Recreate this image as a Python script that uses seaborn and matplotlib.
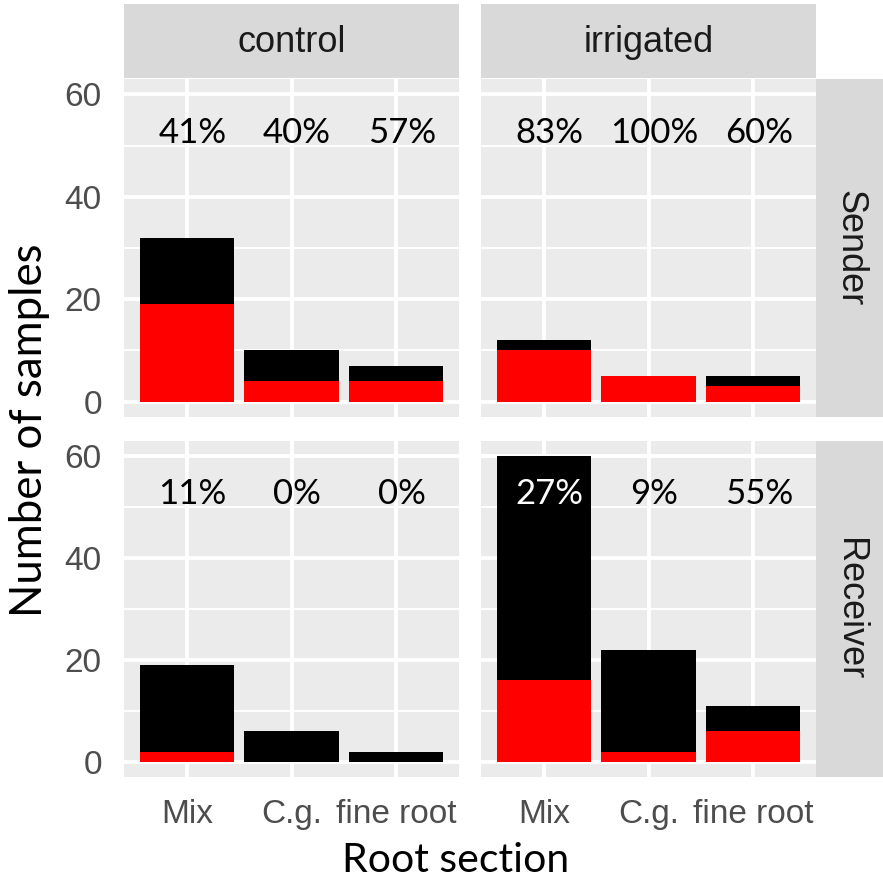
import numpy as np
import pandas as pd
import matplotlib
matplotlib.use("Agg")
import matplotlib.pyplot as plt
import seaborn as sns

# data
sections = ["Mix", "C.g.", "fine root"]
treatments = ["control", "irrigated"]
roles = ["Sender", "Receiver"]

# totals (black) and red part per panel, order = sections
total_sender_control = [32, 10, 7]
red_sender_control = [19, 4, 4]
total_sender_irrigated = [12, 5, 5]
red_sender_irrigated = [10, 5, 3]
total_receiver_control = [19, 6, 2]
red_receiver_control = [2, 0, 0]
total_receiver_irrigated = [60, 22, 11]
red_receiver_irrigated = [16, 2, 6]

pct_sender_control = ["41%", "40%", "57%"]
pct_sender_irrigated = ["83%", "100%", "60%"]
pct_receiver_control = ["11%", "0%", "0%"]
pct_receiver_irrigated = ["27%", "9%", "55%"]
label_y = 52.5

rows = []
panels = {
    ("Sender", "control"): (total_sender_control, red_sender_control, pct_sender_control),
    ("Sender", "irrigated"): (total_sender_irrigated, red_sender_irrigated, pct_sender_irrigated),
    ("Receiver", "control"): (total_receiver_control, red_receiver_control, pct_receiver_control),
    ("Receiver", "irrigated"): (total_receiver_irrigated, red_receiver_irrigated, pct_receiver_irrigated),
}
for (role, trt), (tot, red, pct) in panels.items():
    for s, t, r, p in zip(sections, tot, red, pct):
        rows.append(dict(role=role, treatment=trt, section=s, total=t, red=r, pct=p))
df = pd.DataFrame(rows)

sns.set_theme(style="white")
plt.rcParams["font.family"] = ["Liberation Sans", "DejaVu Sans"]

W, H = 883, 886
fig = plt.figure(figsize=(W / 100, H / 100), dpi=100)

col_x = [124, 481]
col_w = 335
row_y = [(79, 417), (441, 777)]

def fx(px):
    return px / W

def fy(py):
    return 1 - py / H

panel_bg = "#EBEBEB"
strip_bg = "#D9D9D9"

for i, role in enumerate(roles):
    y0, y1 = row_y[i]
    for j, trt in enumerate(treatments):
        ax = fig.add_axes([fx(col_x[j]), fy(y1), col_w / W, (y1 - y0) / H])
        ax.set_facecolor(panel_bg)
        sub = df[(df.role == role) & (df.treatment == trt)]
        sns.barplot(data=sub, x="section", y="total", order=sections, color="black",
                    saturation=1, width=0.9, linewidth=0, ax=ax, zorder=3)
        sns.barplot(data=sub, x="section", y="red", order=sections, color="#FF0000",
                    saturation=1, width=0.9, linewidth=0, ax=ax, zorder=4)
        for k, row in enumerate(sub.itertuples()):
            c = "white" if row.total > label_y else "black"
            ax.annotate(row.pct, (k, label_y), xytext=(4, 0), textcoords="offset points",
                        ha="center", va="center", fontsize=25, color=c,
                        family=["Lato", "DejaVu Sans"], zorder=5)
        ax.set_xlim(-0.6, 2.6)
        ax.set_ylim(-3, 63)
        ax.set_yticks([0, 20, 40, 60])
        ax.set_yticks([10, 30, 50], minor=True)
        ax.grid(which="major", color="white", linewidth=2.8, zorder=0)
        ax.grid(which="minor", axis="y", color="white", linewidth=1.4, zorder=0)
        ax.set_axisbelow(True)
        for sp in ax.spines.values():
            sp.set_visible(False)
        ax.set_xlabel("")
        ax.set_ylabel("")
        ax.tick_params(axis="both", which="major", length=7, width=2.2, color="#333333",
                       labelsize=24, labelcolor="#4D4D4D", pad=9)
        ax.tick_params(axis="y", which="minor", length=0)
        if j != 0:
            ax.tick_params(axis="y", length=0, labelleft=False)
        if i != 1:
            ax.tick_params(axis="x", length=0, labelbottom=False)

        # column strips on top
        if i == 0:
            sax = fig.add_axes([fx(col_x[j]), fy(78), col_w / W, (78 - 4) / H])
            sax.set_facecolor(strip_bg)
            sax.set_xticks([])
            sax.set_yticks([])
            for sp in sax.spines.values():
                sp.set_visible(False)
            sax.text(0.5, 0.48, trt, ha="center", va="center", fontsize=26,
                     color="#1A1A1A", transform=sax.transAxes)
        # row strips on the right
        if j == 1:
            rax = fig.add_axes([fx(816), fy(y1), (883 - 816) / W, (y1 - y0) / H])
            rax.set_facecolor(strip_bg)
            rax.set_xticks([])
            rax.set_yticks([])
            for sp in rax.spines.values():
                sp.set_visible(False)
            rax.text(0.5, 0.5, role, ha="center", va="center", fontsize=26, rotation=-90,
                     color="#1A1A1A", transform=rax.transAxes)

fig.text(fx(456), fy(860), "Root section", ha="center", va="center", fontsize=29.5,
         family=["Lato", "DejaVu Sans"], color="black")
fig.text(fx(30), fy(430), "Number of samples", ha="center", va="center", fontsize=31.5,
         rotation=90, family=["Lato", "DejaVu Sans"], color="black")

fig.savefig("out.png", dpi=100, facecolor="white")
